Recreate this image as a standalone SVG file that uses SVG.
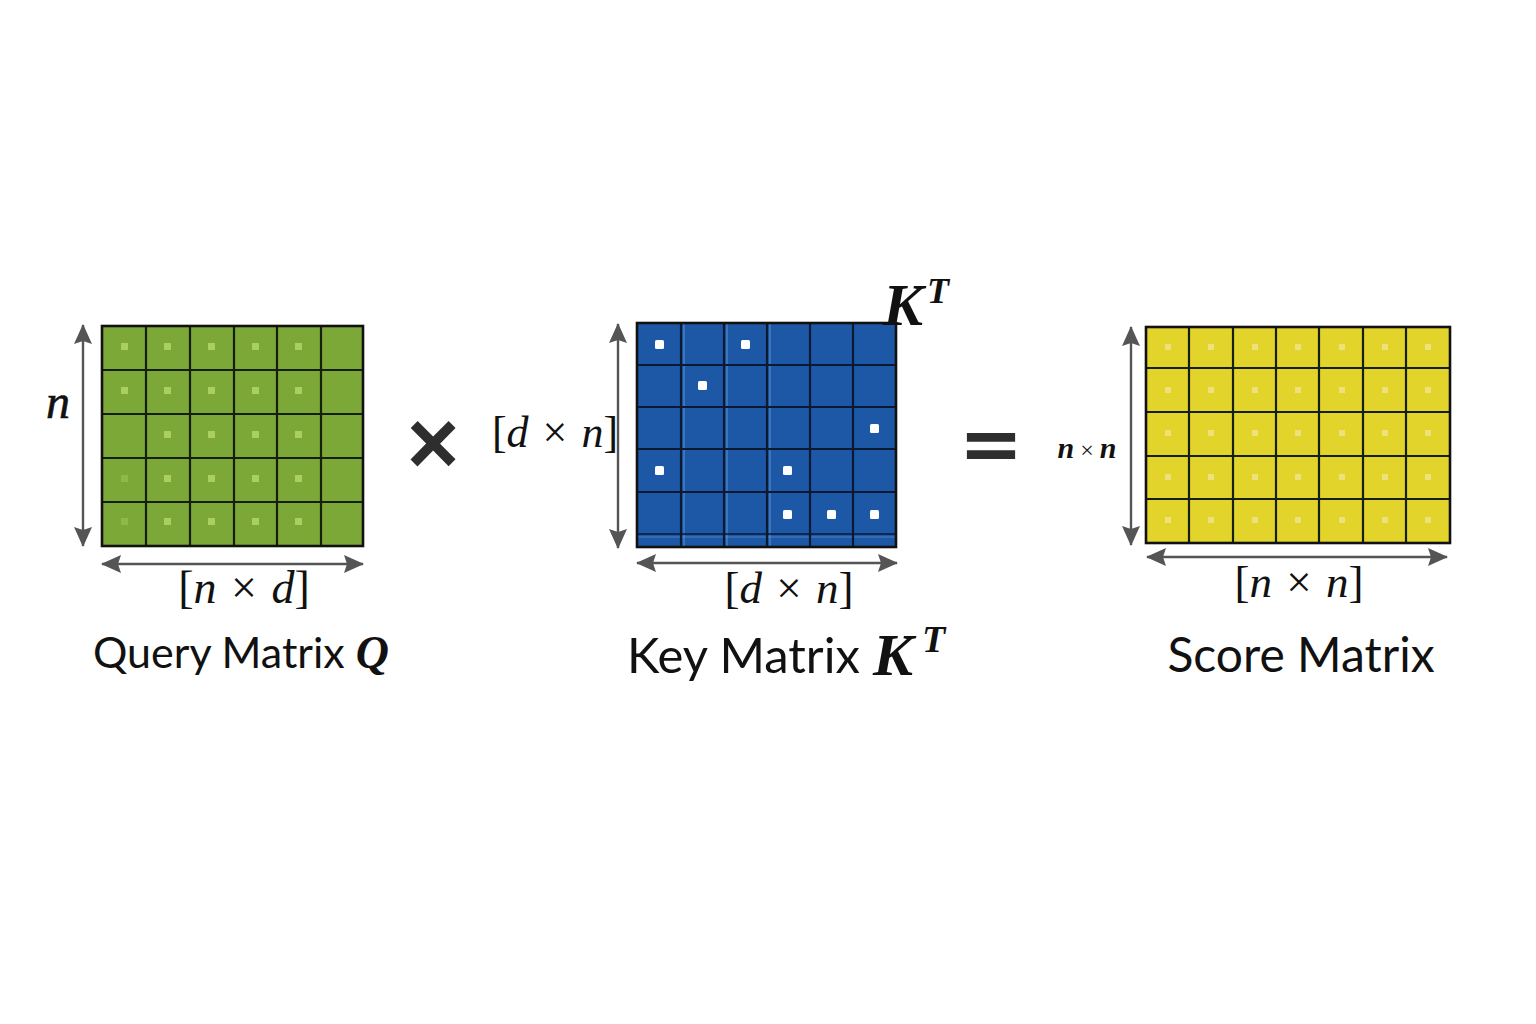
<svg xmlns="http://www.w3.org/2000/svg" width="1536" height="1024" viewBox="0 0 1536 1024">
  <style>
    .grid { fill: none; stroke: #14200c; stroke-width: 2.2; }
    .gridb { fill: none; stroke: #0a1a33; stroke-width: 2.2; }
    .outer { fill: none; stroke: #111; stroke-width: 2.6; }
    .gdot { fill: #a9cf5f; }
    .gdotf { fill: #8cb948; }
    .bdot { fill: #ffffff; }
    .ydot { fill: #eee07a; }
    .dim { stroke: #555; stroke-width: 2.4; fill: none; marker-start: url(#ah); marker-end: url(#ah); }
    .math { font-family: "Liberation Serif", "DejaVu Serif", serif; fill: #111; }
    .it { font-style: italic; }
    .bi { font-style: italic; font-weight: bold; }
    .lbl { font-family: Lato, "Open Sans", sans-serif; fill: #111; }
    .op { font-family: "Liberation Sans", Arial, sans-serif; font-weight: bold; fill: #2e2e2e; }
    .op2 { font-family: "DejaVu Sans", sans-serif; font-weight: bold; fill: #2e2e2e; }
  </style>
  <defs>
    <marker id="ah" viewBox="0 0 20 18" refX="19" refY="9" markerWidth="20" markerHeight="18" markerUnits="userSpaceOnUse" orient="auto-start-reverse">
      <path d="M0,0 L20,9 L0,18 L3,9 z" fill="#555"/>
    </marker>
  </defs>
  <rect width="1536" height="1024" fill="#ffffff"/>

  <!-- Query matrix -->
  <g id="query-matrix">
    <rect x="102" y="326" width="261" height="220" fill="#7ca838"/>
    <g>
      <rect class="gdot" x="121" y="343" width="7" height="7"/>
      <rect class="gdot" x="164" y="343" width="7" height="7"/>
      <rect class="gdot" x="208" y="343" width="7" height="7"/>
      <rect class="gdot" x="252" y="343" width="7" height="7"/>
      <rect class="gdot" x="295" y="343" width="7" height="7"/>
      <rect class="gdot" x="121" y="387" width="7" height="7"/>
      <rect class="gdot" x="164" y="387" width="7" height="7"/>
      <rect class="gdot" x="208" y="387" width="7" height="7"/>
      <rect class="gdot" x="252" y="387" width="7" height="7"/>
      <rect class="gdot" x="295" y="387" width="7" height="7"/>
      <rect class="gdot" x="164" y="431" width="7" height="7"/>
      <rect class="gdot" x="208" y="431" width="7" height="7"/>
      <rect class="gdot" x="252" y="431" width="7" height="7"/>
      <rect class="gdot" x="295" y="431" width="7" height="7"/>
      <rect class="gdotf" x="121" y="475" width="7" height="7"/>
      <rect class="gdot" x="164" y="475" width="7" height="7"/>
      <rect class="gdot" x="208" y="475" width="7" height="7"/>
      <rect class="gdot" x="252" y="475" width="7" height="7"/>
      <rect class="gdot" x="295" y="475" width="7" height="7"/>
      <rect class="gdotf" x="121" y="518" width="7" height="7"/>
      <rect class="gdot" x="164" y="518" width="7" height="7"/>
      <rect class="gdot" x="208" y="518" width="7" height="7"/>
      <rect class="gdot" x="252" y="518" width="7" height="7"/>
      <rect class="gdot" x="295" y="518" width="7" height="7"/>
    </g>
    <path class="grid" d="M146,326V546 M190,326V546 M234,326V546 M277,326V546 M321,326V546 M102,370H363 M102,414H363 M102,458H363 M102,502H363"/>
    <rect class="outer" x="102" y="326" width="261" height="220"/>
  </g>

  <!-- Key matrix -->
  <g id="key-matrix">
    <rect x="637" y="323" width="259" height="224" fill="#1d58a6"/>
    <path d="M684,323V547 M727,323V547 M770,323V547" stroke="#7fa8dc" stroke-width="1" opacity="0.7"/>
    <path d="M637,537H896" stroke="#6f9bd6" stroke-width="1" opacity="0.6"/>
    <path class="gridb" d="M681,323V547 M724,323V547 M767,323V547 M810,323V547 M853,323V547 M637,365H896 M637,407H896 M637,449H896 M637,492H896"/>
    <path d="M637,534H896" stroke="#0a1a33" stroke-width="1.4"/>
    <rect class="outer" x="637" y="323" width="259" height="224"/>
    <rect class="bdot" x="655" y="340" width="9" height="9" rx="1.5"/>
    <rect class="bdot" x="741" y="340" width="9" height="9" rx="1.5"/>
    <rect class="bdot" x="698" y="381" width="9" height="9" rx="1.5"/>
    <rect class="bdot" x="870" y="424" width="9" height="9" rx="1.5"/>
    <rect class="bdot" x="655" y="466" width="9" height="9" rx="1.5"/>
    <rect class="bdot" x="783" y="466" width="9" height="9" rx="1.5"/>
    <rect class="bdot" x="783" y="510" width="9" height="9" rx="1.5"/>
    <rect class="bdot" x="827" y="510" width="9" height="9" rx="1.5"/>
    <rect class="bdot" x="870" y="510" width="9" height="9" rx="1.5"/>
    <text class="math bi" x="883" y="325" font-size="60">K<tspan x="927" y="303" font-size="36">T</tspan></text>
  </g>

  <!-- Score matrix -->
  <g id="score-matrix">
    <rect x="1146" y="327" width="304" height="216" fill="#e2d42b"/>
    <g class="ydot">
      <rect x="1165" y="344" width="6" height="6"/><rect x="1208" y="344" width="6" height="6"/><rect x="1252" y="344" width="6" height="6"/><rect x="1295" y="344" width="6" height="6"/><rect x="1339" y="344" width="6" height="6"/><rect x="1382" y="344" width="6" height="6"/><rect x="1425" y="344" width="6" height="6"/>
      <rect x="1165" y="387" width="6" height="6"/><rect x="1208" y="387" width="6" height="6"/><rect x="1252" y="387" width="6" height="6"/><rect x="1295" y="387" width="6" height="6"/><rect x="1339" y="387" width="6" height="6"/><rect x="1382" y="387" width="6" height="6"/><rect x="1425" y="387" width="6" height="6"/>
      <rect x="1165" y="430" width="6" height="6"/><rect x="1208" y="430" width="6" height="6"/><rect x="1252" y="430" width="6" height="6"/><rect x="1295" y="430" width="6" height="6"/><rect x="1339" y="430" width="6" height="6"/><rect x="1382" y="430" width="6" height="6"/><rect x="1425" y="430" width="6" height="6"/>
      <rect x="1165" y="474" width="6" height="6"/><rect x="1208" y="474" width="6" height="6"/><rect x="1252" y="474" width="6" height="6"/><rect x="1295" y="474" width="6" height="6"/><rect x="1339" y="474" width="6" height="6"/><rect x="1382" y="474" width="6" height="6"/><rect x="1425" y="474" width="6" height="6"/>
      <rect x="1165" y="517" width="6" height="6"/><rect x="1208" y="517" width="6" height="6"/><rect x="1252" y="517" width="6" height="6"/><rect x="1295" y="517" width="6" height="6"/><rect x="1339" y="517" width="6" height="6"/><rect x="1382" y="517" width="6" height="6"/><rect x="1425" y="517" width="6" height="6"/>
    </g>
    <path class="grid" d="M1189,327V543 M1233,327V543 M1276,327V543 M1319,327V543 M1363,327V543 M1406,327V543 M1146,368H1450 M1146,412H1450 M1146,456H1450 M1146,499H1450"/>
    <rect class="outer" x="1146" y="327" width="304" height="216"/>
  </g>

  <!-- Dimension arrows -->
  <g id="connectors">
    <line class="dim" x1="83" y1="546" x2="83" y2="325"/>
    <line class="dim" x1="363" y1="564" x2="102" y2="564"/>
    <line class="dim" x1="618" y1="548" x2="618" y2="324"/>
    <line class="dim" x1="897" y1="563" x2="637" y2="563"/>
    <line class="dim" x1="1131" y1="545" x2="1131" y2="327"/>
    <line class="dim" x1="1447" y1="557" x2="1147" y2="557"/>
  </g>

  <!-- Labels -->
  <g id="labels">
    <text class="math it" x="58" y="418" font-size="48" text-anchor="middle" stroke="#111" stroke-width="0.6">n</text>
    <text class="math" x="244" y="603" font-size="46" word-spacing="3" text-anchor="middle">[<tspan class="it">n</tspan> × <tspan class="it">d</tspan>]</text>
    <text x="93" y="668"><tspan class="lbl" font-size="43">Query Matrix </tspan><tspan class="math bi" font-size="46">Q</tspan></text>

    <text class="math" x="555" y="447" font-size="44" word-spacing="3" text-anchor="middle">[<tspan class="it">d</tspan> × <tspan class="it">n</tspan>]</text>
    <text class="math" x="789" y="603" font-size="45" word-spacing="3" text-anchor="middle">[<tspan class="it">d</tspan> × <tspan class="it">n</tspan>]</text>
    <text x="627" y="673"><tspan class="lbl" font-size="49">Key Matrix</tspan><tspan class="math bi" x="873" y="675" font-size="60">K</tspan><tspan class="math bi" x="922" y="652" font-size="38">T</tspan></text>

    <text class="math" x="1087" y="458" font-size="30" text-anchor="middle"><tspan class="bi">n</tspan><tspan font-size="24"> × </tspan><tspan class="bi">n</tspan></text>
    <text class="math" x="1299" y="597" font-size="45" word-spacing="3" text-anchor="middle">[<tspan class="it">n</tspan> × <tspan class="it">n</tspan>]</text>
    <text class="lbl" x="1301" y="672" font-size="48" text-anchor="middle">Score Matrix</text>
  </g>

  <!-- Operators -->
  <g id="operators">
    <text class="op" x="433" y="474" font-size="90" text-anchor="middle">×</text>
    <text class="op2" x="991" y="470" font-size="77" text-anchor="middle">=</text>
  </g>
</svg>
